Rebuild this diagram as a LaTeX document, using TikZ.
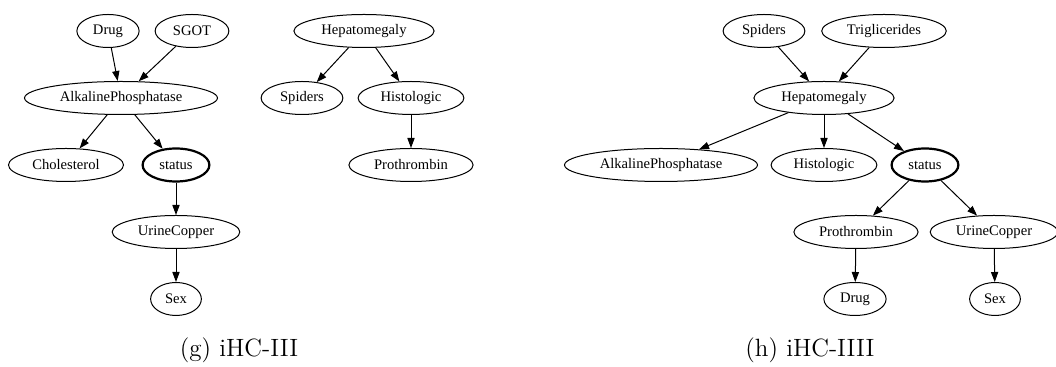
\documentclass[tikz,border=0pt]{standalone}
\usepackage{fontspec}
\newfontfamily\nodefont{Liberation Serif}
\usetikzlibrary{arrows.meta,shapes.geometric}

\tikzset{
  var/.style={ellipse,draw,line width=0.5pt,inner xsep=3.5pt,inner ysep=0pt,
    minimum height=16.5pt,font=\nodefont\fontsize{7.3}{8}\selectfont},
  target/.style={var,line width=1.1pt},
  edge/.style={line width=0.5pt,arrows={-Triangle[length=5pt,width=3.6pt]}},
  caption/.style={anchor=base,font=\fontsize{12.5}{14}\selectfont}
}

\begin{document}
\begin{tikzpicture}[x=0.5pt,y=-0.5pt]
  \useasboundingbox (0,0) rectangle (1056,367);

  \node[var] (drugG) at (108,31) {Drug};
  \node[var] (sgotG) at (192,31) {SGOT};
  \node[var] (alkG) at (121,98) {AlkalinePhosphatase};
  \node[var] (cholG) at (66,165) {Cholesterol};
  \node[target] (statG) at (176,165) {status};
  \node[var] (urineG) at (176,232) {UrineCopper};
  \node[var] (sexG) at (176,299) {Sex};
  \draw[edge] (drugG) -- (alkG);
  \draw[edge] (sgotG) -- (alkG);
  \draw[edge] (alkG) -- (cholG);
  \draw[edge] (alkG) -- (statG);
  \draw[edge] (statG) -- (urineG);
  \draw[edge] (urineG) -- (sexG);

  \node[var] (hepG) at (364,31) {Hepatomegaly};
  \node[var] (spidG) at (302,98) {Spiders};
  \node[var] (histG) at (411,98) {Histologic};
  \node[var] (prothG) at (411,165) {Prothrombin};
  \draw[edge] (hepG) -- (spidG);
  \draw[edge] (hepG) -- (histG);
  \draw[edge] (histG) -- (prothG);

  \node[caption] (capG) at (239,357) {(g)\ iHC-III};

  \node[var] (spidH) at (764,31) {Spiders};
  \node[var] (trigH) at (884,31) {Triglicerides};
  \node[var] (hepH) at (824,98) {Hepatomegaly};
  \node[var] (alkH) at (661,165) {AlkalinePhosphatase};
  \node[var] (histH) at (824,165) {Histologic};
  \node[target] (statH) at (925,165) {status};
  \node[var] (prothH) at (856,232) {Prothrombin};
  \node[var] (urineH) at (994,232) {UrineCopper};
  \node[var] (drugH) at (855,299) {Drug};
  \node[var] (sexH) at (995,299) {Sex};
  \draw[edge] (spidH) -- (hepH);
  \draw[edge] (trigH) -- (hepH);
  \draw[edge] (hepH) -- (alkH);
  \draw[edge] (hepH) -- (histH);
  \draw[edge] (hepH) -- (statH);
  \draw[edge] (statH) -- (prothH);
  \draw[edge] (statH) -- (urineH);
  \draw[edge] (prothH) -- (drugH);
  \draw[edge] (urineH) -- (sexH);

  \node[caption] (capH) at (810,357) {(h)\ iHC-IIII};
\end{tikzpicture}
\end{document}
